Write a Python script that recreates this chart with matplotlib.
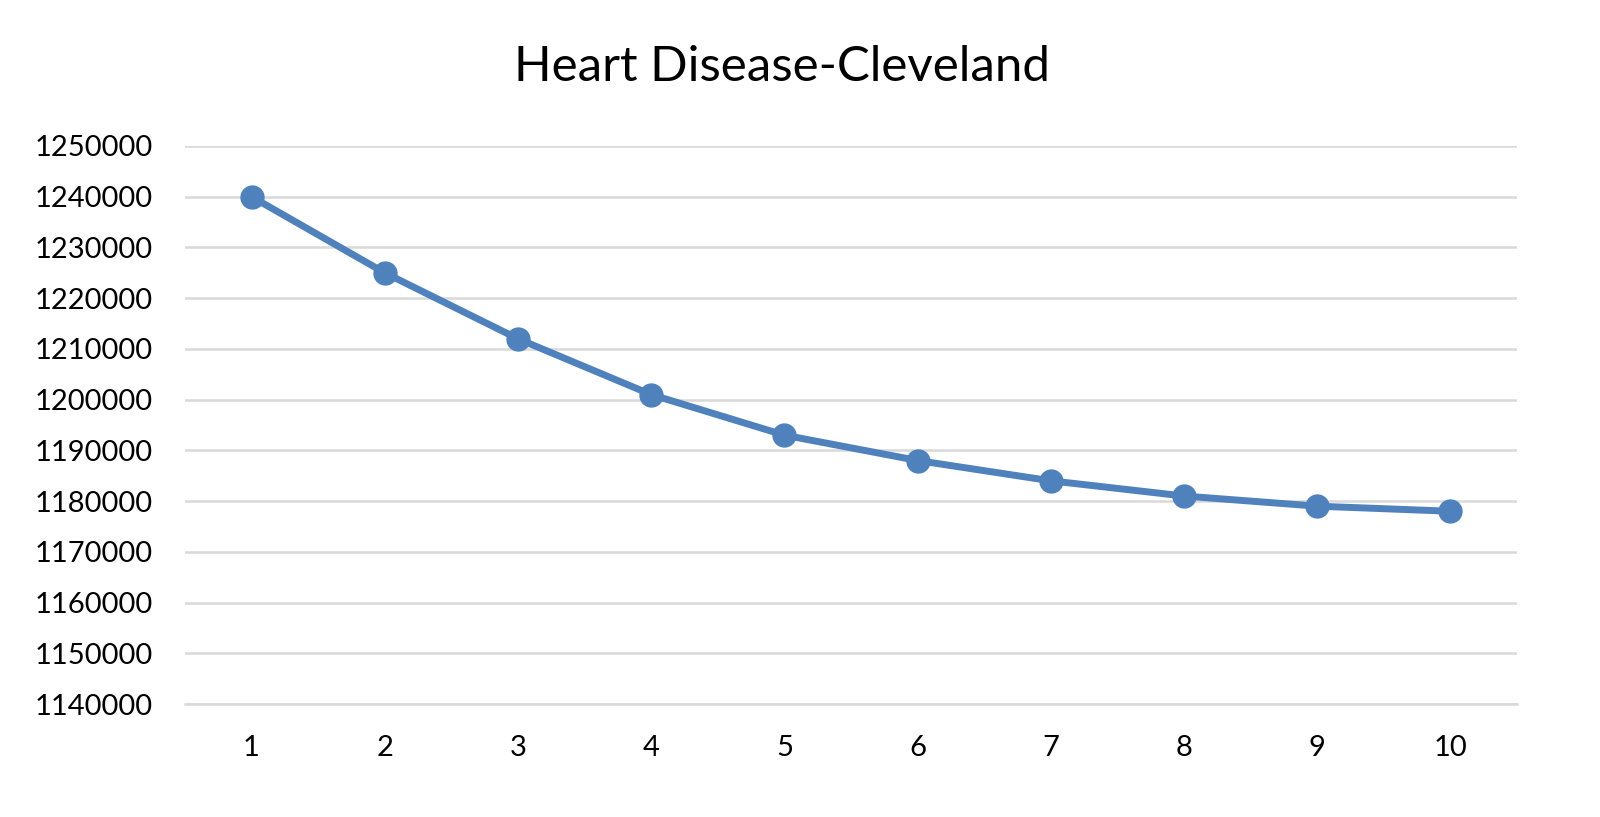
import matplotlib
matplotlib.use('Agg')
import matplotlib.pyplot as plt

plt.rcParams['font.family'] = ['Lato', 'DejaVu Sans']

iterations = [1, 2, 3, 4, 5, 6, 7, 8, 9, 10]
values = [1240000, 1225000, 1212000, 1201000, 1193000, 1188000, 1184000, 1181000, 1179000, 1178000]
yticks = list(range(1140000, 1250001, 10000))

fig = plt.figure(figsize=(16, 8.17), dpi=100)
ax = fig.add_axes([0.1156, 0.1383, 0.8325, 0.683])

ax.plot(iterations, values, color='#4F81BD', lw=5, marker='o', ms=16.5,
        markerfacecolor='#4F81BD', markeredgecolor='#4F81BD', zorder=3)

ax.set_xlim(0.5, 10.5)
ax.set_ylim(1140000, 1250000)
ax.set_xticks(iterations)
ax.set_yticks(yticks)
ax.set_yticklabels([str(v) for v in yticks])
ax.grid(axis='y', color='#D9D9D9', lw=1.8)
ax.set_axisbelow(True)
for s in ['top', 'right', 'left']:
    ax.spines[s].set_visible(False)
ax.spines['bottom'].set_color('#D9D9D9')
ax.spines['bottom'].set_linewidth(1.8)
ax.tick_params(length=0, labelsize=21, colors='black')
ax.tick_params(axis='x', pad=22)
ax.tick_params(axis='y', pad=23)

fig.text(782 / 1600, 1 - 67 / 817, 'Heart Disease-Cleveland', fontsize=35.5,
         ha='center', va='center')

fig.savefig('out.png')
